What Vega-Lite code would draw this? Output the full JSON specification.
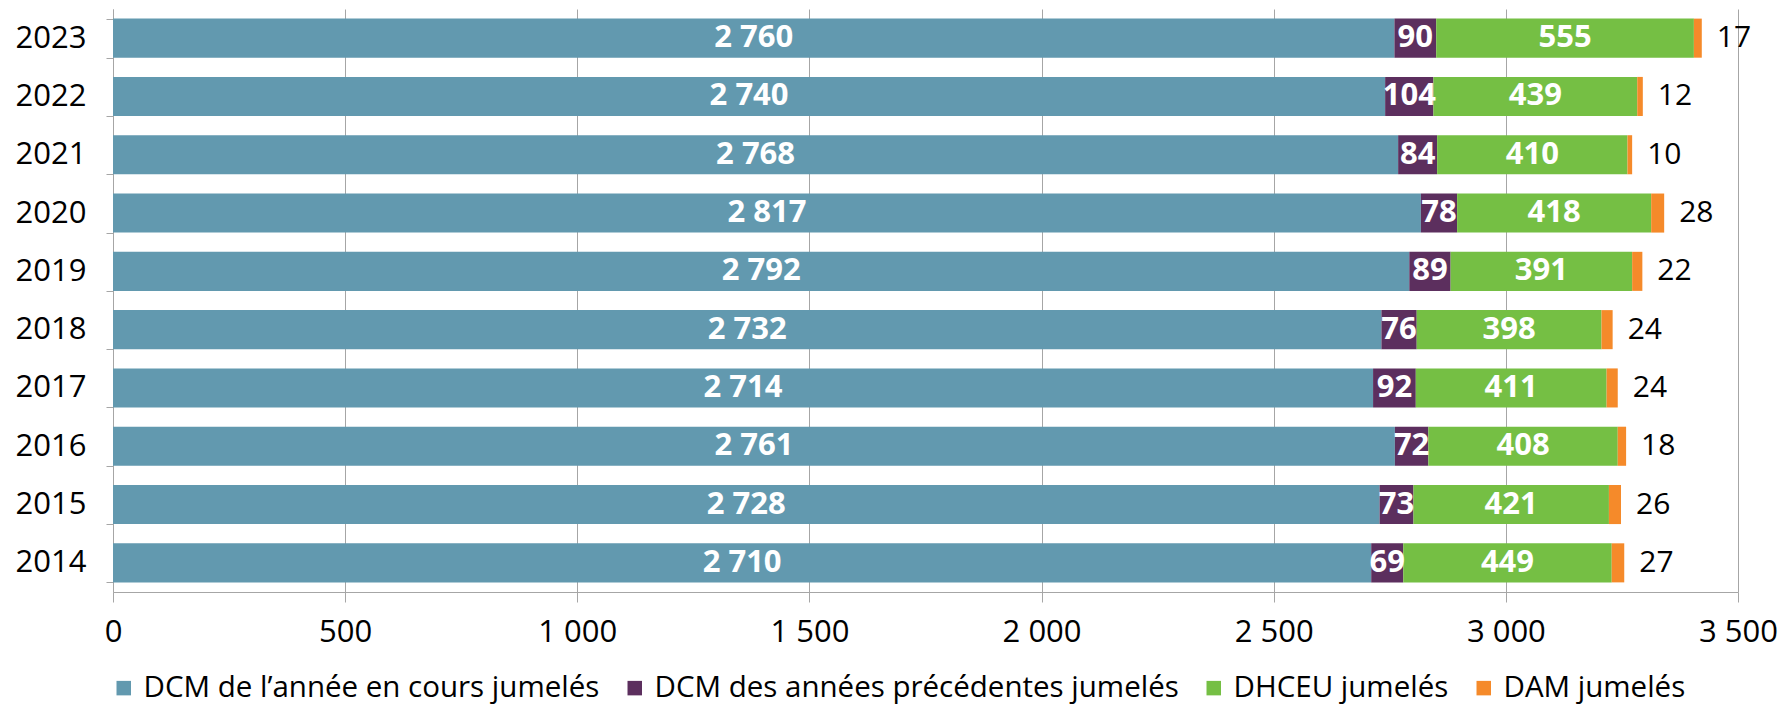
{
  "$schema": "https://vega.github.io/schema/vega-lite/v6.json",
  "width": 1625,
  "height": 583,
  "autosize": {"type": "none"},
  "padding": {"left": 113, "top": 9, "right": 43, "bottom": 116},
  "config": {
    "locale": {"number": {"decimal": ",", "thousands": "\u00a0", "grouping": [3], "currency": ["", "\u00a0€"]}},
    "view": {"stroke": null},
    "font": "Open Sans"
  },
  "data": {
    "values": [
      {"year": "2023", "series": "DCM de l’année en cours jumelés", "value": 2760},
      {"year": "2023", "series": "DCM des années précédentes jumelés", "value": 90},
      {"year": "2023", "series": "DHCEU jumelés", "value": 555},
      {"year": "2023", "series": "DAM jumelés", "value": 17},
      {"year": "2022", "series": "DCM de l’année en cours jumelés", "value": 2740},
      {"year": "2022", "series": "DCM des années précédentes jumelés", "value": 104},
      {"year": "2022", "series": "DHCEU jumelés", "value": 439},
      {"year": "2022", "series": "DAM jumelés", "value": 12},
      {"year": "2021", "series": "DCM de l’année en cours jumelés", "value": 2768},
      {"year": "2021", "series": "DCM des années précédentes jumelés", "value": 84},
      {"year": "2021", "series": "DHCEU jumelés", "value": 410},
      {"year": "2021", "series": "DAM jumelés", "value": 10},
      {"year": "2020", "series": "DCM de l’année en cours jumelés", "value": 2817},
      {"year": "2020", "series": "DCM des années précédentes jumelés", "value": 78},
      {"year": "2020", "series": "DHCEU jumelés", "value": 418},
      {"year": "2020", "series": "DAM jumelés", "value": 28},
      {"year": "2019", "series": "DCM de l’année en cours jumelés", "value": 2792},
      {"year": "2019", "series": "DCM des années précédentes jumelés", "value": 89},
      {"year": "2019", "series": "DHCEU jumelés", "value": 391},
      {"year": "2019", "series": "DAM jumelés", "value": 22},
      {"year": "2018", "series": "DCM de l’année en cours jumelés", "value": 2732},
      {"year": "2018", "series": "DCM des années précédentes jumelés", "value": 76},
      {"year": "2018", "series": "DHCEU jumelés", "value": 398},
      {"year": "2018", "series": "DAM jumelés", "value": 24},
      {"year": "2017", "series": "DCM de l’année en cours jumelés", "value": 2714},
      {"year": "2017", "series": "DCM des années précédentes jumelés", "value": 92},
      {"year": "2017", "series": "DHCEU jumelés", "value": 411},
      {"year": "2017", "series": "DAM jumelés", "value": 24},
      {"year": "2016", "series": "DCM de l’année en cours jumelés", "value": 2761},
      {"year": "2016", "series": "DCM des années précédentes jumelés", "value": 72},
      {"year": "2016", "series": "DHCEU jumelés", "value": 408},
      {"year": "2016", "series": "DAM jumelés", "value": 18},
      {"year": "2015", "series": "DCM de l’année en cours jumelés", "value": 2728},
      {"year": "2015", "series": "DCM des années précédentes jumelés", "value": 73},
      {"year": "2015", "series": "DHCEU jumelés", "value": 421},
      {"year": "2015", "series": "DAM jumelés", "value": 26},
      {"year": "2014", "series": "DCM de l’année en cours jumelés", "value": 2710},
      {"year": "2014", "series": "DCM des années précédentes jumelés", "value": 69},
      {"year": "2014", "series": "DHCEU jumelés", "value": 449},
      {"year": "2014", "series": "DAM jumelés", "value": 27}
    ]
  },
  "transform": [
    {"stack": "value", "groupby": ["year"], "as": ["v0", "v1"]},
    {"calculate": "(datum.v0 + datum.v1) / 2", "as": "mid"}
  ],
  "encoding": {
    "y": {
      "field": "year",
      "type": "ordinal",
      "sort": "descending",
      "scale": {"paddingInner": 0.33, "paddingOuter": 0.165},
      "axis": {
        "title": null,
        "domainColor": "#A6A6A6",
        "tickColor": "#A6A6A6",
        "tickSize": 7,
        "tickBand": "extent",
        "labelFontSize": 31,
        "labelColor": "black",
        "labelPadding": 20,
        "grid": false
      }
    }
  },
  "layer": [
    {
      "mark": {"type": "bar"},
      "encoding": {
        "x": {
          "field": "v0",
          "type": "quantitative",
          "scale": {"domain": [0, 3500], "nice": false},
          "axis": {
            "title": null,
            "values": [0, 500, 1000, 1500, 2000, 2500, 3000, 3500],
            "format": ",d",
            "grid": true,
            "gridColor": "#A6A6A6",
            "domainColor": "#A6A6A6",
            "tickColor": "#A6A6A6",
            "tickSize": 10,
            "labelFontSize": 31,
            "labelColor": "black",
            "labelPadding": 15,
            "labelFlush": false,
            "labelOverlap": false
          }
        },
        "x2": {"field": "v1"},
        "color": {
          "field": "series",
          "type": "nominal",
          "sort": ["DCM de l’année en cours jumelés", "DCM des années précédentes jumelés", "DHCEU jumelés", "DAM jumelés"],
          "scale": {
            "domain": ["DCM de l’année en cours jumelés", "DCM des années précédentes jumelés", "DHCEU jumelés", "DAM jumelés"],
            "range": ["#6299AF", "#5C2F5E", "#75BF44", "#F58A2A"]
          },
          "legend": {
            "orient": "none",
            "legendX": -4,
            "legendY": 664,
            "direction": "horizontal",
            "columns": 4,
            "title": null,
            "symbolType": "square",
            "symbolSize": 210,
            "symbolStrokeWidth": 0,
            "labelFontSize": 29.5,
            "labelColor": "black",
            "labelLimit": 700,
            "columnPadding": 20,
            "labelOffset": 5
          }
        }
      }
    },
    {
      "transform": [{"filter": "datum.series !== 'DAM jumelés'"}],
      "mark": {"type": "text", "fontWeight": "bold", "fontSize": 31, "color": "white", "baseline": "middle"},
      "encoding": {
        "x": {"field": "mid", "type": "quantitative"},
        "text": {"field": "value", "type": "quantitative", "format": ",d"}
      }
    },
    {
      "transform": [{"filter": "datum.series === 'DAM jumelés'"}],
      "mark": {"type": "text", "fontSize": 30, "align": "left", "dx": 15, "color": "black", "baseline": "middle"},
      "encoding": {
        "x": {"field": "v1", "type": "quantitative"},
        "text": {"field": "value", "type": "quantitative", "format": ",d"}
      }
    }
  ]
}
